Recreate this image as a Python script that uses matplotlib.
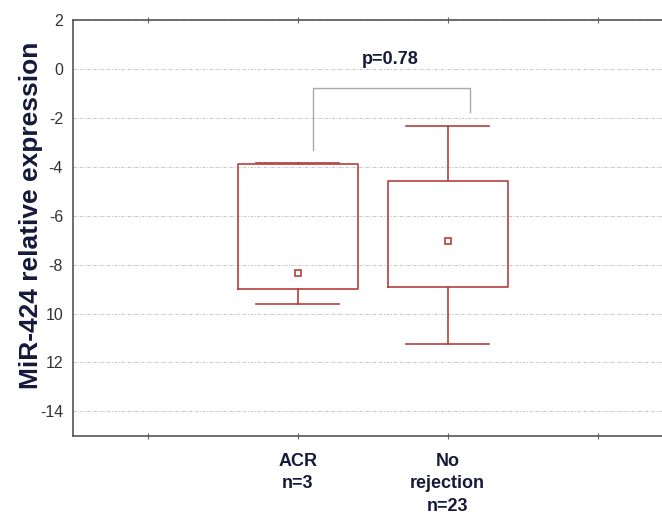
import matplotlib
matplotlib.use('Agg')
import matplotlib.pyplot as plt

plt.rcParams['font.family'] = ['Liberation Sans', 'DejaVu Sans']

# group summaries
groups = ['ACR\nn=3', 'No\nrejection\nn=23']
positions = [1, 2]
box_low = [-8.98, -8.92]
box_high = [-3.9, -4.6]
whisk_low = [-9.6, -11.25]
whisk_high = [-3.85, -2.33]
means = [-8.33, -7.05]
p_text = 'p=0.78'

yticks = [2, 0, -2, -4, -6, -8, -10, -12, -14]
ytick_labels = ['2', '0', '-2', '-4', '-6', '-8', '10', '12', '-14']

red = '#b5403f'
navy = '#151a3d'

fig = plt.figure(figsize=(6.62, 5.22), dpi=100)
ax = fig.add_axes([0.110, 0.165, 0.89, 0.797])

stats = []
for i in range(len(groups)):
    stats.append({'med': means[i], 'q1': box_low[i], 'q3': box_high[i],
                  'whislo': whisk_low[i], 'whishi': whisk_high[i],
                  'mean': means[i], 'fliers': []})

ax.bxp(stats, positions=positions, widths=0.8, showmeans=True,
       showfliers=False, patch_artist=False,
       boxprops=dict(color=red, linewidth=1.2),
       whiskerprops=dict(color=red, linewidth=1.2),
       capprops=dict(color=red, linewidth=1.2),
       medianprops=dict(linewidth=0),
       meanprops=dict(marker='s', markersize=4.5, markerfacecolor='white',
                      markeredgecolor=red, markeredgewidth=1.2),
       capwidths=0.55)

# significance bracket
bx = [1.1, 1.1, 2.15, 2.15]
by = [-3.3, -0.8, -0.8, -1.75]
ax.plot(bx, by, color='#aaaaaa', linewidth=1.0)
ax.text(1.62, 0.38, p_text, ha='center', va='center', fontsize=13,
        fontweight='bold', color=navy)

ax.set_ylim(-15, 2)
ax.set_xlim(-0.5, 3.43)
ax.set_yticks(yticks)
ax.set_yticklabels(ytick_labels, fontsize=11.5, color='#333333')
ax.tick_params(axis='y', length=0, pad=7)
ax.set_xticks([0, 1, 2, 3])
ax.set_xticklabels(['', groups[0], groups[1], ''], fontsize=13,
                   fontweight='bold', color=navy, linespacing=1.45)
ax.tick_params(axis='x', direction='inout', length=4, color='#666666',
               top=True, pad=10)
ax.grid(axis='y', color='#c4c4c4', linestyle=(0, (3, 1.5, 1, 1.5)), linewidth=0.7)
ax.set_axisbelow(True)

for s in ['left', 'bottom', 'top']:
    ax.spines[s].set_color('#555555')
    ax.spines[s].set_linewidth(1.2)
ax.spines['right'].set_visible(False)

ax.set_ylabel('MiR-424 relative expression', fontsize=19, fontweight='bold',
              color=navy)
ax.yaxis.set_label_coords(-0.05, 0.53)

fig.savefig('out.png', dpi=100)
